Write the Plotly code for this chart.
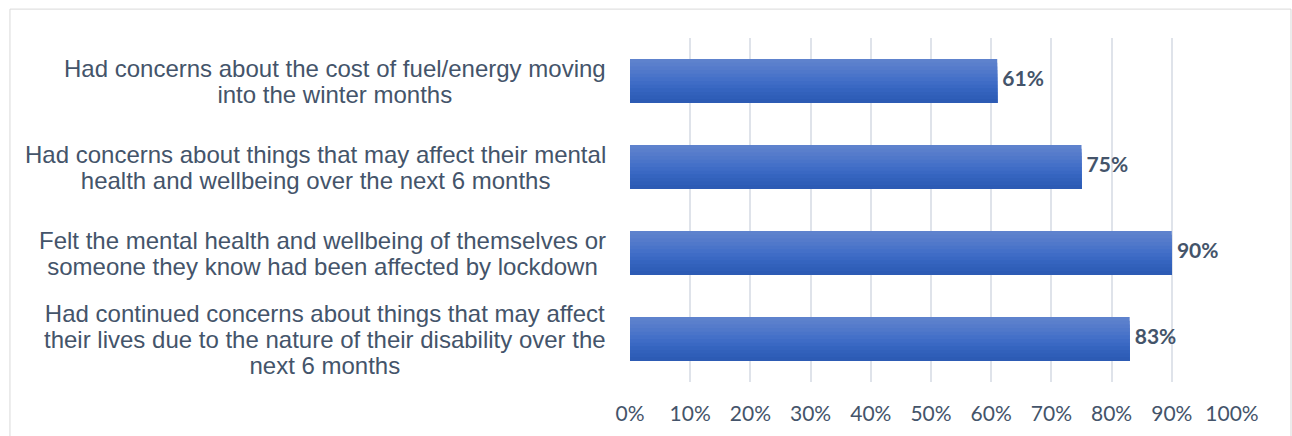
import plotly.graph_objects as go

# Survey statements (top to bottom) and share of respondents agreeing (%)
statement_lines = [
    ["Had concerns about the cost of fuel/energy moving",
     "into the winter months"],
    ["Had concerns about things that may affect their mental",
     "health and wellbeing over the next 6 months"],
    ["Felt the mental health and wellbeing of themselves or",
     "someone they know had been affected by lockdown"],
    ["Had continued concerns about things that may affect",
     "their lives due to the nature of their disability over the",
     "next 6 months"],
]
categories = ["s1", "s2", "s3", "s4"]
values = [61, 75, 90, 83]
x_ticks = [0, 10, 20, 30, 40, 50, 60, 70, 80, 90, 100]

TEXT_COLOR = "#44546A"
GRID_COLOR = "#DFE3EA"

# vertical gradient of the bar fill, top to bottom
gradient = ["#5E82CD", "#5A7FCC", "#557BCB", "#5078CA", "#4A74C9", "#4470C8",
            "#3F6CC6", "#3A68C3", "#3564BF", "#3261BB", "#2F5EB8", "#2D5BB4"]
bar_width = 0.51
n = len(gradient)
slice_w = bar_width / n

fig = go.Figure()
# each band runs from its own top edge down to the bar bottom; later bands cover
# the lower part of earlier ones, so the fill is seamless
for i, col in enumerate(gradient):
    fig.add_trace(go.Bar(
        x=values, y=categories, orientation="h",
        width=bar_width - i * slice_w, offset=-bar_width / 2 + i * slice_w,
        marker=dict(color=col, line=dict(width=0)),
        hoverinfo="skip", showlegend=False,
    ))

# value labels at the bar ends
fig.add_trace(go.Scatter(
    x=values, y=categories, mode="text",
    text=[f"<b> {v}%</b>" for v in values],
    textposition="middle right",
    textfont=dict(family="Lato", size=21, color=TEXT_COLOR),
    hoverinfo="skip", showlegend=False,
))

# statement labels: lines centred within each block, block right-aligned to the axis;
# glyphs at 24px on a 20px line base gives the tight line spacing
for cat, lines in zip(categories, statement_lines):
    fig.add_annotation(
        x=-0.0365, xref="paper", y=cat, yref="y",
        text="<br>".join(f'<span style="font-size:24px">{ln}</span>' for ln in lines),
        showarrow=False, xanchor="right", yanchor="middle",
        align="center",
        font=dict(family="Liberation Sans", size=20, color=TEXT_COLOR),
    )

# thin frame around the chart
fig.add_shape(type="rect", xref="paper", yref="paper",
              x0=-1.03, x1=1.098, y0=-0.17, y1=1.084,
              line=dict(color="#D9D9D9", width=1), layer="below")

fig.update_layout(
    width=1292, height=436,
    margin=dict(l=630, r=60, t=38, b=54),
    paper_bgcolor="white", plot_bgcolor="white",
    barmode="overlay",
    xaxis=dict(
        range=[0, 100], tickvals=x_ticks,
        ticktext=[f"{t}%" for t in x_ticks],
        showgrid=True, gridcolor=GRID_COLOR, gridwidth=2,
        zeroline=False, showline=False,
        tickfont=dict(family="Lato", size=21, color=TEXT_COLOR),
        ticks="", ticklabelstandoff=17,
    ),
    yaxis=dict(
        categoryorder="array", categoryarray=categories,
        autorange="reversed", showticklabels=False,
        showgrid=False, zeroline=False, showline=False,
    ),
)

fig.write_html("out.html")
